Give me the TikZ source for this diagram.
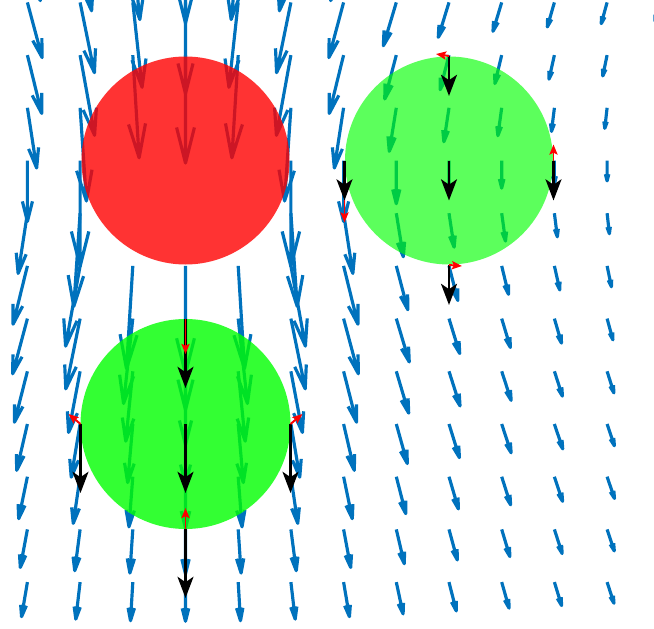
\documentclass[tikz,border=0pt]{standalone}
\usetikzlibrary{arrows.meta}
\definecolor{quiverblue}{RGB}{0,114,189}
\begin{document}
\begin{tikzpicture}[x=0.02cm,y=-0.02cm,
		flow/.style={quiverblue,line width=1.8pt,line join=round},
		speed/.style={black,line width=1.7pt,-{Stealth[length=12pt,width=9pt,inset=3pt]}},
		slip/.style={red,line width=1.1pt,-{Stealth[length=5.7pt,width=4.6pt,inset=1pt]}}]
	\useasboundingbox (0,0) rectangle (654,629);
	\clip (0,0) rectangle (654,629);
	\foreach \i in {-4,...,9}{
		\foreach \j in {-4,...,8}{
			\pgfmathsetmacro{\xx}{0.50673*\i}
			\pgfmathsetmacro{\yy}{0.50673*\j}
			\pgfmathsetmacro{\rr}{sqrt(\xx*\xx+\yy*\yy)}
			\ifdim \rr pt>1pt
				\pgfmathsetmacro{\ca}{0.75/\rr}
				\pgfmathsetmacro{\cb}{0.25/(\rr*\rr*\rr)}
				\pgfmathsetmacro{\ux}{108*\xx*\yy/(\rr*\rr)*(\ca-3*\cb)}
				\pgfmathsetmacro{\uy}{108*(\ca*(1+\yy*\yy/(\rr*\rr))+\cb*(1-3*\yy*\yy/(\rr*\rr)))}
				\coordinate (tail) at (185.5+52.7*\i,160.5+52.7*\j);
				\path (tail) ++(\ux,\uy) coordinate (head);
				\draw[flow] (tail) -- (head) ++(-0.33*\ux-0.0825*\uy,-0.33*\uy+0.0825*\ux) -- (head) -- ++(-0.33*\ux+0.0825*\uy,-0.33*\uy-0.0825*\ux);
			\fi
		}
	}
	\coordinate (sinker) at (185.5,160.5);
	\coordinate (lower) at (185.5,424);
	\coordinate (beside) at (449,160.5);
	\fill[red,opacity=0.8] (sinker) circle[radius=104];
	\fill[green,opacity=0.8] (lower) circle[radius=105];
	\fill[green,opacity=0.64] (beside) circle[radius=104];
	\path (beside) +(0,-104.5) coordinate (b-n) +(-104.5,0) coordinate (b-w) +(104.5,0) coordinate (b-e) +(0,104.5) coordinate (b-s) +(-104.5,39) coordinate (b-wt);
	\path (lower) +(0,-105) coordinate (l-n) +(-105,0) coordinate (l-w) +(105,0) coordinate (l-e) +(0,105) coordinate (l-s);
	\foreach \pt in {b-n,b-w,beside,b-e,b-s}
		\draw[speed] (\pt) -- ++(0,40);
	\foreach \pt in {l-n,l-w,lower,l-e,l-s}
		\draw[speed] (\pt) -- ++(0,69);
	\draw[slip] (b-n) -- ++(-13,-2);
	\draw[slip] (b-wt) -- ++(0,23);
	\draw[slip] (b-e) -- ++(0,-16);
	\draw[slip] (b-s) -- ++(13,1);
	\draw[slip] (l-n) -- ++(0,35);
	\draw[slip] (l-w) -- ++(-12,-10);
	\draw[slip] (l-e) -- ++(12,-10);
	\draw[slip] (l-s) -- ++(0,-21);
\end{tikzpicture}
\end{document}
